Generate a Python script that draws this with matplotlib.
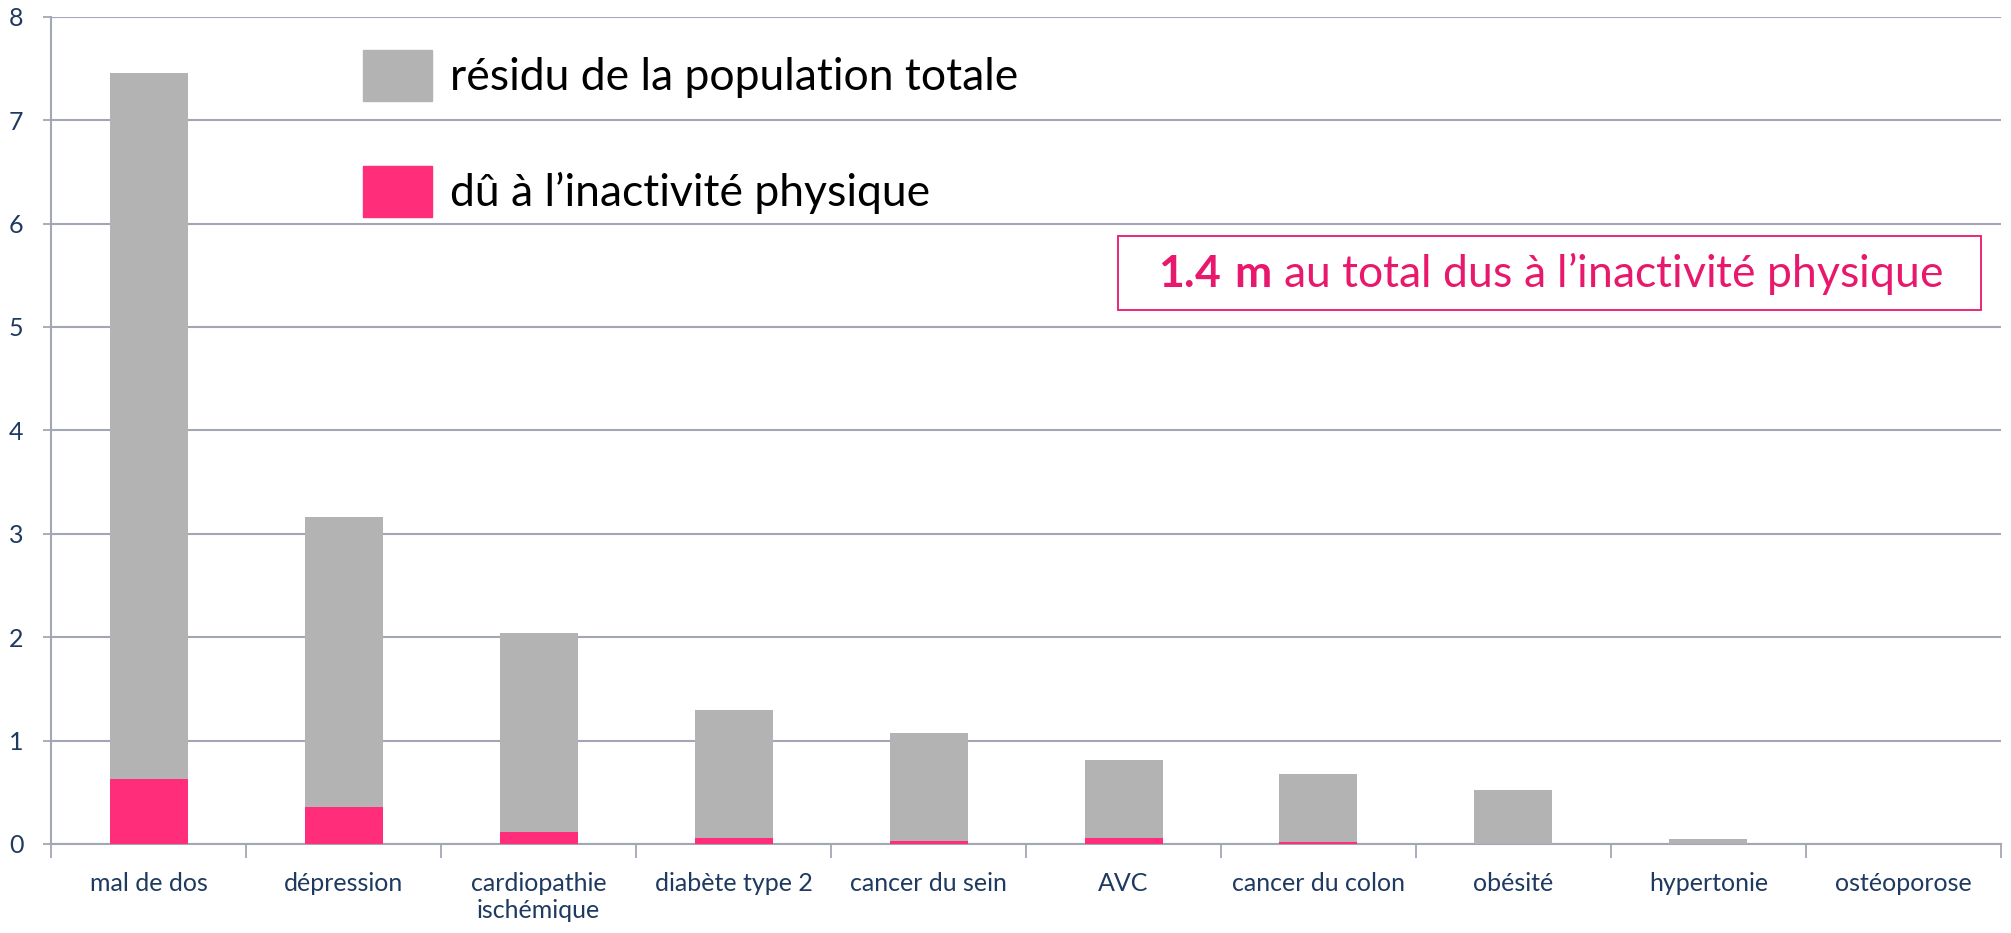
import numpy as np
import matplotlib
matplotlib.use("Agg")
import matplotlib.pyplot as plt
from matplotlib.patches import Patch, Rectangle

plt.rcParams['font.family'] = ['Lato', 'DejaVu Sans']
plt.rcParams['mathtext.fontset'] = 'custom'
plt.rcParams['mathtext.bf'] = 'Lato:bold'

categories = ['mal de dos', 'dépression', 'cardiopathie\nischémique', 'diabète type 2',
              'cancer du sein', 'AVC', 'cancer du colon', 'obésité', 'hypertonie', 'ostéoporose']
inactivite = [0.63, 0.36, 0.12, 0.054, 0.025, 0.054, 0.02, 0.003, 0.0, 0.0]
residu = [6.83, 2.80, 1.92, 1.24, 1.05, 0.76, 0.66, 0.52, 0.048, 0.0]
yticks = [0, 1, 2, 3, 4, 5, 6, 7, 8]

gray = '#B3B3B3'
pink = '#FF2D7A'
navy = '#1F3A60'
gridc = '#A3A6B4'
textpink = '#E8186D'

fig = plt.figure(figsize=(20.11, 9.33), dpi=100)
ax = fig.add_axes([0.0254, 0.0954, 0.9696, 0.8866])

x = np.arange(len(categories))
ax.bar(x, inactivite, width=0.4, color=pink, zorder=3)
ax.bar(x, residu, width=0.4, bottom=inactivite, color=gray, zorder=3)

ax.set_xlim(-0.5, len(categories) - 0.5)
ax.set_ylim(0, 8)
ax.set_yticks(yticks)
ax.yaxis.grid(True, color=gridc, linewidth=1.5, zorder=0)

ax.set_xticks(x)
ax.set_xticklabels(categories, fontsize=18, color=navy)
ax.tick_params(axis='x', length=0, pad=20)
ax.set_xticks(np.arange(len(categories) + 1) - 0.5, minor=True)
ax.tick_params(axis='x', which='minor', length=10, width=1.3, color=gridc, direction='out')
ax.tick_params(axis='y', labelsize=18, labelcolor=navy, length=6, width=1.3, color=gridc, pad=14)

for s in ['top', 'right']:
    ax.spines[s].set_visible(False)
for s in ['left', 'bottom']:
    ax.spines[s].set_color(gridc)
    ax.spines[s].set_linewidth(1.5)

handles = [Patch(color=gray), Patch(color=pink)]
ax.legend(handles, ['résidu de la population totale', 'dû à l’inactivité physique'],
          loc='upper left', bbox_to_anchor=(0.160, 0.960), frameon=False, borderpad=0,
          borderaxespad=0, fontsize=32, handlelength=1.55, handleheight=1.4,
          handletextpad=0.4, labelspacing=1.45)

# encadré total
ax.add_patch(Rectangle((0.547, 0.645), 0.443, 0.09, transform=ax.transAxes,
                       facecolor='white', edgecolor=textpink, linewidth=1.3, zorder=5))
ax.text(0.769, 0.69, r'$\bf{1.4\ m}$ au total dus à l’inactivité physique',
        transform=ax.transAxes, ha='center', va='center', fontsize=32, color=textpink,
        zorder=6)

fig.savefig('out.png', dpi=100)
